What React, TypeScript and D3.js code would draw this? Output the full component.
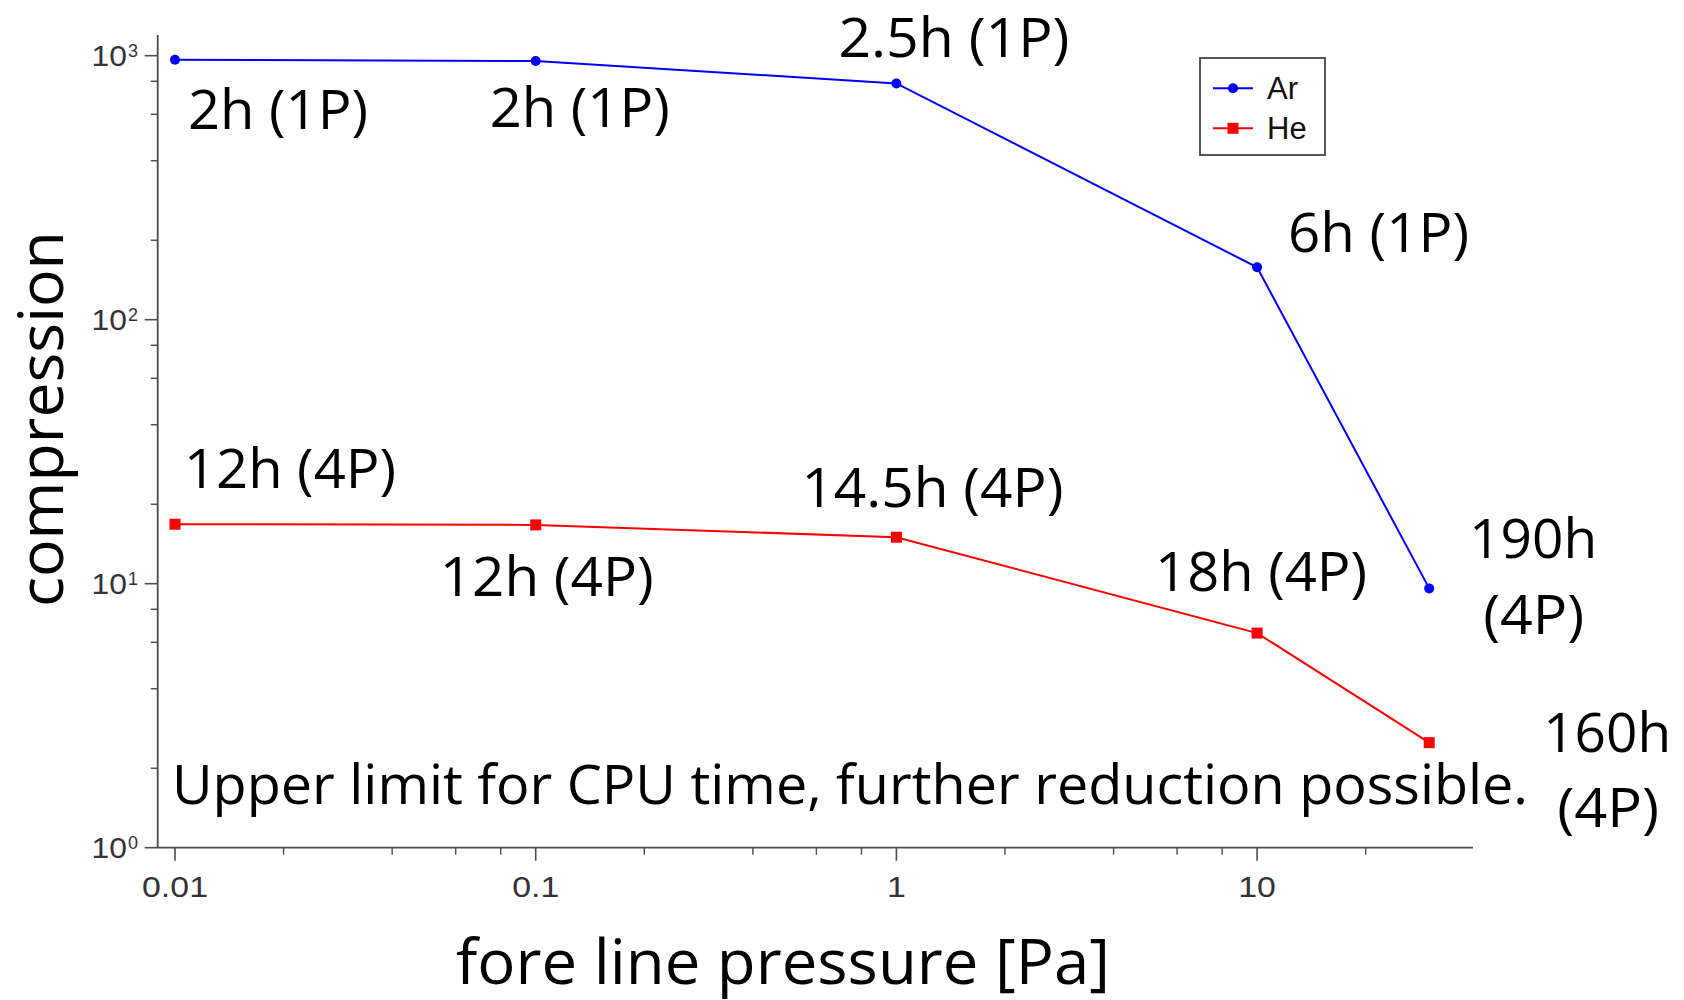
import React from 'react';
import * as d3 from 'd3';

// ---- data ----
const pressures = [0.01, 0.1, 1, 10, 30];
const arValues = [965, 955, 785, 158, 9.6];
const heValues = [16.8, 16.7, 15.0, 6.5, 2.5];
const arLabels = [['2h (1P)'], ['2h (1P)'], ['2.5h (1P)'], ['6h (1P)'], ['190h', '(4P)']];
const heLabels = [['12h (4P)'], ['12h (4P)'], ['14.5h (4P)'], ['18h (4P)'], ['160h', '(4P)']];
const xTickValues = [0.01, 0.1, 1, 10];
const xTickLabels = ['0.01', '0.1', '1', '10'];
const yTickExponents = [0, 1, 2, 3];
const seriesNames = ['Ar', 'He'];
const noteText = 'Upper limit for CPU time, further reduction possible.';
const xTitle = 'fore line pressure [Pa]';
const yTitle = 'compression';

// ---- layout (label offsets relative to their data point: dx, dy, width) ----
const arLabelLayout = [
  [[13, 69, 180]],
  [[-46, 66, 180]],
  [[-58, -26, 231]],
  [[31, -15, 181]],
  [[40, -30, 128], [54, 46, 101]],
];
const heLabelLayout = [
  [[9, -36, 212]],
  [[-96, 71, 214]],
  [[-95, -30, 262]],
  [[-102, -42, 212]],
  [[114, 9, 128], [128, 84, 102]],
];

const ANN_FONT = '"Open Sans", "Noto Sans", sans-serif';
const TICK_FONT = '"Liberation Sans", Arial, sans-serif';

export default function App() {
  const x = d3.scaleLog().domain([0.01, 10]).range([175, 1257.1]);
  const y = d3.scaleLog().domain([1, 1000]).range([847.7, 55.7]);
  const axisLeft = 157.7;
  const axisRight = 1473;
  const axisTop = 35;
  const axisBottom = 847.7;
  const axisColor = '#4a4a4a';

  const xMinor: number[] = [];
  [0.01, 0.1, 1, 10].forEach((d) => [2, 4, 6, 8].forEach((m) => {
    const v = d * m;
    if (x(v) < axisRight) xMinor.push(v);
  }));
  const yMinor: number[] = [];
  [1, 10, 100].forEach((d) => [2, 4, 6, 8].forEach((m) => yMinor.push(d * m)));

  const line = d3.line<[number, number]>().x((d) => x(d[0])).y((d) => y(d[1]));
  const arData = pressures.map((p, i) => [p, arValues[i]] as [number, number]);
  const heData = pressures.map((p, i) => [p, heValues[i]] as [number, number]);

  const renderLabels = (data: [number, number][], labels: string[][], layout: number[][][]) =>
    data.map((d, i) =>
      labels[i].map((t, j) => {
        const [dx, dy, w] = layout[i][j];
        return (
          <text key={`${i}-${j}`} x={x(d[0]) + dx} y={y(d[1]) + dy} fontFamily={ANN_FONT} fontSize={55}
            fill="#000" textLength={w} lengthAdjust="spacingAndGlyphs">{t}</text>
        );
      })
    );

  return (
    <svg width={1684} height={1000} style={{ position: 'absolute', left: 0, top: 0, background: '#fff' }}>
      <rect width={1684} height={1000} fill="#fff" />
      {/* axes */}
      <line x1={axisLeft} x2={axisLeft} y1={axisTop} y2={axisBottom} stroke={axisColor} strokeWidth={1.8} />
      <line x1={axisLeft} x2={axisRight} y1={axisBottom} y2={axisBottom} stroke={axisColor} strokeWidth={1.8} />
      {xTickValues.map((v, i) => (
        <g key={'xt' + i}>
          <line x1={x(v)} x2={x(v)} y1={axisBottom} y2={axisBottom + 13} stroke={axisColor} strokeWidth={1.6} />
          <g transform={`translate(${x(v)},${axisBottom + 49}) scale(1.13,1)`}>
            <text x={0} y={0} textAnchor="middle" fontFamily={TICK_FONT} fontSize={30} fill="#333">{xTickLabels[i]}</text>
          </g>
        </g>
      ))}
      {xMinor.map((v, i) => (
        <line key={'xm' + i} x1={x(v)} x2={x(v)} y1={axisBottom} y2={axisBottom + 7} stroke={axisColor} strokeWidth={1.4} />
      ))}
      {yTickExponents.map((e) => {
        const yy = y(Math.pow(10, e));
        return (
          <g key={'yt' + e}>
            <line x1={axisLeft - 13} x2={axisLeft} y1={yy} y2={yy} stroke={axisColor} strokeWidth={1.6} />
            <g transform={`translate(127,${yy + 10}) scale(1.06,1)`}>
              <text x={0} y={0} textAnchor="end" fontFamily={TICK_FONT} fontSize={30} fill="#333">10</text>
            </g>
            <text x={128} y={yy + 1} textAnchor="start" fontFamily={TICK_FONT} fontSize={18} fill="#333">{e}</text>
          </g>
        );
      })}
      {yMinor.map((v, i) => (
        <line key={'ym' + i} x1={axisLeft - 7} x2={axisLeft} y1={y(v)} y2={y(v)} stroke={axisColor} strokeWidth={1.4} />
      ))}

      {/* series */}
      <path d={line(arData) || ''} fill="none" stroke="#0000ff" strokeWidth={2} />
      <path d={line(heData) || ''} fill="none" stroke="#ff0000" strokeWidth={2} />
      {arData.map((d, i) => (
        <circle key={'ac' + i} cx={x(d[0])} cy={y(d[1])} r={5} fill="#0000ff" />
      ))}
      {heData.map((d, i) => (
        <rect key={'hr' + i} x={x(d[0]) - 5.5} y={y(d[1]) - 5.5} width={11} height={11} fill="#ff0000" />
      ))}

      {/* annotations */}
      {renderLabels(arData, arLabels, arLabelLayout)}
      {renderLabels(heData, heLabels, heLabelLayout)}
      <text x={172} y={804} fontFamily={ANN_FONT} fontSize={55} fill="#000" textLength={1356} lengthAdjust="spacingAndGlyphs">{noteText}</text>

      {/* legend */}
      <rect x={1200} y={58} width={125} height={97} fill="#fff" stroke="#444" strokeWidth={1.8} />
      {seriesNames.map((n, i) => {
        const ly = 88.3 + i * 40;
        const col = i === 0 ? '#0000ff' : '#ff0000';
        return (
          <g key={'lg' + i}>
            <line x1={1213} x2={1253} y1={ly} y2={ly} stroke={col} strokeWidth={2} />
            {i === 0 ? <circle cx={1233} cy={ly} r={5} fill={col} /> : <rect x={1227.5} y={ly - 5.5} width={11} height={11} fill={col} />}
            <text x={1267} y={ly + 11} fontFamily={TICK_FONT} fontSize={31} fill="#111">{n}</text>
          </g>
        );
      })}

      {/* axis titles */}
      <text x={456} y={984} fontFamily={ANN_FONT} fontSize={63} fill="#000" textLength={654} lengthAdjust="spacingAndGlyphs">{xTitle}</text>
      <text transform="translate(63,419) rotate(-90)" textAnchor="middle" fontFamily={ANN_FONT} fontSize={62} fill="#000" textLength={376} lengthAdjust="spacingAndGlyphs">{yTitle}</text>
    </svg>
  );
}
